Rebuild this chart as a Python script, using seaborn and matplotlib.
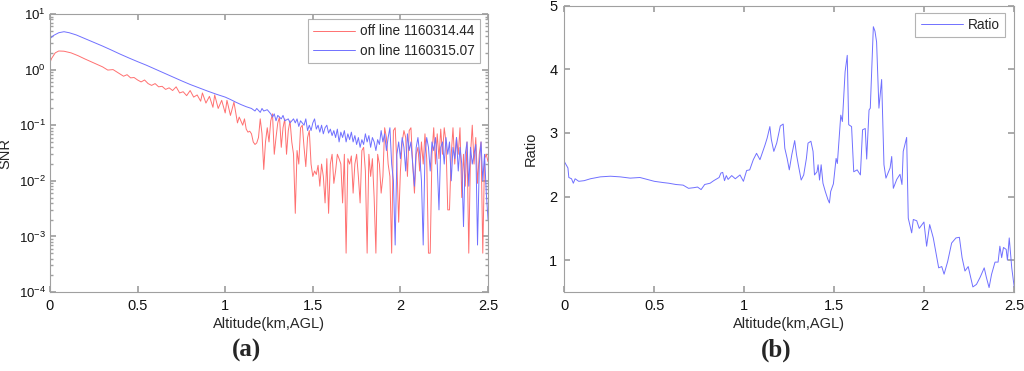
import numpy as np
import pandas as pd
import matplotlib
matplotlib.use("Agg")
import matplotlib.pyplot as plt
import seaborn as sns

# ---- data ----
# (a) off line SNR
off_alt = [0.00, 0.01, 0.03, 0.05, 0.08, 0.12, 0.16, 0.20, 0.25, 0.30,
           0.33, 0.36, 0.40, 0.42, 0.44, 0.46, 0.48, 0.50, 0.52, 0.54,
           0.56, 0.58, 0.60, 0.62, 0.64, 0.66, 0.68, 0.70, 0.72, 0.74,
           0.76, 0.78, 0.80, 0.82, 0.84, 0.86, 0.87, 0.89, 0.91, 0.93,
           0.94, 0.96, 0.98, 1.00, 1.01, 1.03, 1.05, 1.07, 1.08, 1.10,
           1.11, 1.12, 1.13, 1.14, 1.15, 1.16, 1.17, 1.18, 1.19, 1.20,
           1.21, 1.22, 1.23, 1.24, 1.25, 1.26, 1.27, 1.28, 1.29, 1.30,
           1.31, 1.32, 1.33, 1.34, 1.35, 1.36, 1.37, 1.38, 1.39, 1.40,
           1.41, 1.42, 1.43, 1.44, 1.45, 1.46, 1.47, 1.48, 1.49, 1.50,
           1.51, 1.52, 1.53, 1.54, 1.55, 1.56, 1.57, 1.58, 1.59, 1.60,
           1.61, 1.62, 1.63, 1.64, 1.65, 1.66, 1.67, 1.68, 1.69, 1.70,
           1.71, 1.72, 1.73, 1.74, 1.75, 1.76, 1.77, 1.78, 1.79, 1.80,
           1.81, 1.82, 1.83, 1.84, 1.85, 1.86, 1.87, 1.88, 1.89, 1.90,
           1.91, 1.92, 1.93, 1.94, 1.95, 1.96, 1.97, 1.98, 1.99, 2.00,
           2.01, 2.02, 2.03, 2.04, 2.05, 2.06, 2.07, 2.08, 2.09, 2.10,
           2.11, 2.12, 2.13, 2.14, 2.15, 2.16, 2.17, 2.18, 2.19, 2.20,
           2.21, 2.22, 2.23, 2.24, 2.25, 2.26, 2.27, 2.28, 2.29, 2.30,
           2.31, 2.32, 2.33, 2.34, 2.35, 2.36, 2.37, 2.38, 2.39, 2.40,
           2.41, 2.42, 2.43, 2.44, 2.45, 2.46, 2.47, 2.48, 2.49, 2.50]
off_snr = [1.35, 1.6, 2.0, 2.16, 2.14, 2.0, 1.78, 1.55, 1.32, 1.12,
           0.98, 1.0, 0.83, 0.76, 0.81, 0.71, 0.72, 0.65, 0.60, 0.65,
           0.56, 0.52, 0.56, 0.49, 0.50, 0.44, 0.47, 0.42, 0.49, 0.38,
           0.40, 0.34, 0.42, 0.32, 0.35, 0.27, 0.38, 0.25, 0.33, 0.21,
           0.35, 0.20, 0.28, 0.166, 0.28, 0.15, 0.26, 0.11, 0.14, 0.10,
           0.13, 0.085, 0.075, 0.078, 0.07, 0.05, 0.045, 0.048, 0.06, 0.13,
           0.07, 0.016, 0.05, 0.09, 0.05, 0.12, 0.16, 0.03, 0.06, 0.11,
           0.14, 0.04, 0.09, 0.13, 0.03, 0.08, 0.12, 0.05, 0.03, 0.0026,
           0.035, 0.02, 0.09, 0.10, 0.04, 0.018, 0.06, 0.08, 0.02, 0.012,
           0.015, 0.013, 0.019, 0.008, 0.02, 0.012, 0.004, 0.025, 0.0026, 0.02,
           0.03, 0.009, 0.015, 0.03, 0.025, 0.02, 0.004, 0.03, 0.0005, 0.025,
           0.02, 0.028, 0.006, 0.02, 0.03, 0.012, 0.004, 0.035, 0.04, 0.015,
           0.0005, 0.03, 0.012, 0.025, 0.005, 0.0005, 0.03, 0.02, 0.006, 0.012,
           0.09, 0.06, 0.02, 0.012, 0.0005, 0.08, 0.09, 0.02, 0.0018, 0.015,
           0.05, 0.08, 0.06, 0.012, 0.08, 0.09, 0.02, 0.006, 0.03, 0.04,
           0.015, 0.05, 0.02, 0.07, 0.025, 0.0005, 0.0005, 0.03, 0.09, 0.02,
           0.07, 0.025, 0.085, 0.03, 0.09, 0.05, 0.003, 0.003, 0.03, 0.09,
           0.02, 0.06, 0.03, 0.09, 0.005, 0.03, 0.008, 0.05, 0.0005, 0.03,
           0.1, 0.02, 0.06, 0.009, 0.03, 0.05, 0.0005, 0.025, 0.03, 0.022]

# (a) on line SNR
on_alt = [0.00, 0.02, 0.05, 0.08, 0.11, 0.15, 0.20, 0.25, 0.30, 0.35,
          0.40, 0.45, 0.50, 0.55, 0.60, 0.65, 0.70, 0.75, 0.80, 0.85,
          0.90, 0.95, 1.00, 1.03, 1.06, 1.09, 1.12, 1.15, 1.17, 1.18,
          1.20, 1.21, 1.22, 1.24, 1.26, 1.27, 1.28, 1.29, 1.30, 1.32,
          1.33, 1.34, 1.36, 1.37, 1.39, 1.40, 1.41, 1.42, 1.43, 1.45,
          1.46, 1.47, 1.48, 1.49, 1.50, 1.51, 1.52, 1.53, 1.54, 1.55,
          1.56, 1.57, 1.58, 1.59, 1.60, 1.61, 1.62, 1.63, 1.64, 1.65,
          1.66, 1.67, 1.68, 1.69, 1.70, 1.71, 1.72, 1.73, 1.74, 1.75,
          1.76, 1.77, 1.78, 1.79, 1.80, 1.81, 1.82, 1.83, 1.84, 1.85,
          1.86, 1.87, 1.88, 1.89, 1.90, 1.91, 1.92, 1.93, 1.94, 1.95,
          1.96, 1.97, 1.98, 1.99, 2.00, 2.01, 2.02, 2.03, 2.04, 2.05,
          2.06, 2.07, 2.08, 2.09, 2.10, 2.11, 2.12, 2.13, 2.14, 2.15,
          2.16, 2.17, 2.18, 2.19, 2.20, 2.21, 2.22, 2.23, 2.24, 2.25,
          2.26, 2.27, 2.28, 2.29, 2.30, 2.31, 2.32, 2.33, 2.34, 2.35,
          2.36, 2.37, 2.38, 2.39, 2.40, 2.41, 2.42, 2.43, 2.44, 2.45,
          2.46, 2.47, 2.48, 2.49, 2.50]
on_snr = [3.6, 4.1, 4.6, 4.8, 4.6, 4.2, 3.6, 3.1, 2.65, 2.25,
          1.9, 1.62, 1.39, 1.2, 1.02, 0.87, 0.74, 0.63, 0.54, 0.47,
          0.41, 0.36, 0.32, 0.29, 0.26, 0.235, 0.215, 0.20, 0.18, 0.2,
          0.17, 0.2, 0.18, 0.19, 0.16, 0.14, 0.16, 0.12, 0.15, 0.13,
          0.15, 0.12, 0.13, 0.11, 0.13, 0.11, 0.13, 0.095, 0.12, 0.10,
          0.13, 0.08, 0.10, 0.08, 0.11, 0.13, 0.085, 0.10, 0.075, 0.10,
          0.07, 0.09, 0.10, 0.072, 0.085, 0.065, 0.08, 0.06, 0.085, 0.05,
          0.075, 0.06, 0.08, 0.05, 0.07, 0.055, 0.075, 0.05, 0.065, 0.045,
          0.06, 0.04, 0.055, 0.045, 0.07, 0.05, 0.065, 0.04, 0.06, 0.05,
          0.035, 0.055, 0.045, 0.08, 0.05, 0.07, 0.035, 0.06, 0.09, 0.02,
          0.01, 0.0007, 0.03, 0.05, 0.025, 0.06, 0.04, 0.015, 0.07, 0.035,
          0.05, 0.02, 0.008, 0.04, 0.06, 0.03, 0.01, 0.0007, 0.03, 0.06,
          0.04, 0.015, 0.05, 0.035, 0.06, 0.02, 0.003, 0.04, 0.05, 0.02,
          0.06, 0.03, 0.05, 0.01, 0.04, 0.025, 0.06, 0.015, 0.04, 0.02,
          0.0015, 0.03, 0.05, 0.008, 0.04, 0.02, 0.03, 0.045, 0.0007, 0.02,
          0.05, 0.01, 0.03, 0.006, 0.002]

# (b) ratio
ratio_alt = [0.00, 0.02, 0.025, 0.04, 0.05, 0.06, 0.08, 0.11, 0.145, 0.20,
             0.256, 0.31, 0.366, 0.42, 0.46, 0.50, 0.55, 0.58, 0.62, 0.66,
             0.69, 0.72, 0.74, 0.76, 0.78, 0.81, 0.83, 0.86, 0.87, 0.88,
             0.89, 0.90, 0.91, 0.93, 0.95, 0.976, 0.995, 1.013, 1.03, 1.05,
             1.068, 1.087, 1.115, 1.127, 1.142, 1.15, 1.164, 1.18, 1.20, 1.216,
             1.225, 1.238, 1.25, 1.264, 1.28, 1.29, 1.30, 1.316, 1.33, 1.345,
             1.354, 1.37, 1.382, 1.39, 1.404, 1.41, 1.418, 1.427, 1.437, 1.45,
             1.465, 1.473, 1.48, 1.495, 1.51, 1.517, 1.536, 1.545, 1.56, 1.572,
             1.58, 1.596, 1.608, 1.627, 1.645, 1.657, 1.672, 1.68, 1.693, 1.70,
             1.717, 1.726, 1.735, 1.748, 1.763, 1.776, 1.787, 1.81, 1.819, 1.828,
             1.847, 1.865, 1.876, 1.883, 1.902, 1.911, 1.93, 1.939, 1.958, 1.972,
             1.998, 2.013, 2.03, 2.05, 2.07, 2.08, 2.097, 2.11, 2.13, 2.152,
             2.176, 2.195, 2.21, 2.226, 2.244, 2.27, 2.29, 2.31, 2.333, 2.345,
             2.36, 2.374, 2.393, 2.41, 2.42, 2.43, 2.44, 2.455, 2.462, 2.472,
             2.486, 2.50]
ratio = [2.55, 2.45, 2.30, 2.28, 2.21, 2.28, 2.24, 2.25, 2.28, 2.31,
         2.32, 2.31, 2.29, 2.30, 2.27, 2.24, 2.22, 2.21, 2.19, 2.18,
         2.13, 2.14, 2.15, 2.11, 2.19, 2.21, 2.25, 2.30, 2.37, 2.38,
         2.25, 2.33, 2.27, 2.33, 2.28, 2.34, 2.24, 2.41, 2.42, 2.58,
         2.68, 2.58, 2.81, 2.92, 3.10, 2.90, 2.71, 2.84, 3.11, 3.14,
         2.76, 2.60, 2.42, 2.66, 2.88, 2.66, 2.50, 2.26, 2.34, 2.60,
         2.84, 2.87, 2.71, 2.34, 2.39, 2.50, 2.26, 2.50, 2.21, 2.08,
         1.95, 1.90, 2.08, 2.20, 2.60, 2.52, 3.28, 3.18, 3.96, 4.22,
         3.13, 3.10, 2.39, 2.42, 2.34, 3.05, 3.07, 2.59, 3.36, 3.39,
         4.67, 4.60, 4.43, 3.39, 3.84, 2.50, 2.29, 2.45, 2.63, 2.13,
         2.27, 2.35, 2.19, 2.71, 2.93, 1.66, 1.43, 1.64, 1.62, 1.50,
         1.60, 1.22, 1.56, 1.35, 1.04, 0.88, 0.90, 0.78, 0.98, 1.27,
         1.35, 1.36, 1.04, 0.83, 0.90, 0.58, 0.62, 0.73, 0.88, 0.73,
         0.57, 0.78, 0.97, 0.97, 1.22, 1.04, 1.20, 1.17, 1.00, 1.35,
         0.88, 0.57]

off_label = "off line 1160314.44"
on_label = "on line 1160315.07"

sns.set_theme(style="ticks")
plt.rcParams["font.family"] = ["Liberation Sans", "DejaVu Sans"]
plt.rcParams["mathtext.fontset"] = "custom"
plt.rcParams["mathtext.rm"] = "Liberation Sans"

RED = "#ff7070"
BLUE = "#7070ff"
GREY = "#a0a0a0"

fig = plt.figure(figsize=(10.24, 3.71), dpi=100)
ax1 = fig.add_axes([0.0488, 0.2129, 0.4278, 0.7494])
ax2 = fig.add_axes([0.5511, 0.2129, 0.4394, 0.7717])

df_off = pd.DataFrame({"alt": off_alt, "snr": off_snr})
df_on = pd.DataFrame({"alt": on_alt, "snr": on_snr})
df_ratio = pd.DataFrame({"alt": ratio_alt, "ratio": ratio})

sns.lineplot(data=df_off, x="alt", y="snr", ax=ax1, color=RED, lw=0.7, label=off_label)
sns.lineplot(data=df_on, x="alt", y="snr", ax=ax1, color=BLUE, lw=0.7, label=on_label)
ax1.set_yscale("log")
ax1.set_ylim(1e-4, 10)
ax1.set_xlim(0, 2.5)
ax1.set_xticks([0, 0.5, 1, 1.5, 2, 2.5])
ax1.set_xticklabels(["0", "0.5", "1", "1.5", "2", "2.5"])

sns.lineplot(data=df_ratio, x="alt", y="ratio", ax=ax2, color=BLUE, lw=0.7, label="Ratio")
ax2.set_ylim(0.5, 5)
ax2.set_xlim(0, 2.5)
ax2.set_xticks([0, 0.5, 1, 1.5, 2, 2.5])
ax2.set_xticklabels(["0", "0.5", "1", "1.5", "2", "2.5"])
ax2.set_yticks([1, 2, 3, 4, 5])

for ax in (ax1, ax2):
    for sp in ax.spines.values():
        sp.set_visible(True)
        sp.set_color(GREY)
        sp.set_linewidth(0.8)
    ax.tick_params(which="both", direction="in", top=True, right=True,
                   color=GREY, labelsize=10.5, labelcolor="#111111", pad=5)
    ax.tick_params(which="major", length=4)
    ax.tick_params(which="minor", length=2)
    ax.set_xlabel("Altitude(km,AGL)", fontsize=10.5, labelpad=3)

ax1.tick_params(axis="y", labelsize=9.5, pad=3)
ax1.set_ylabel("SNR", fontsize=10.5)
ax1.yaxis.set_label_coords(-0.086, 0.5)
ax2.set_ylabel("Ratio", fontsize=10.5, labelpad=8)

leg1 = ax1.legend(loc="upper right", bbox_to_anchor=(0.982, 0.982), fontsize=9.8,
                  handlelength=3.1, frameon=True, fancybox=False, borderpad=0.4,
                  labelspacing=0.4, handletextpad=0.35, borderaxespad=0)
leg2 = ax2.legend(loc="upper right", bbox_to_anchor=(0.98, 0.976), fontsize=9.8,
                  handlelength=3.1, frameon=True, fancybox=False, borderpad=0.4,
                  handletextpad=0.35, borderaxespad=0)
for leg in (leg1, leg2):
    leg.get_frame().set_edgecolor(GREY)
    leg.get_frame().set_linewidth(0.8)

fig.text(0.241, 0.055, "(a)", ha="center", va="center", fontsize=18,
         fontweight="bold", family=["Liberation Serif", "DejaVu Serif"])
fig.text(0.758, 0.055, "(b)", ha="center", va="center", fontsize=18,
         fontweight="bold", family=["Liberation Serif", "DejaVu Serif"])

fig.savefig("out.png", dpi=100)
